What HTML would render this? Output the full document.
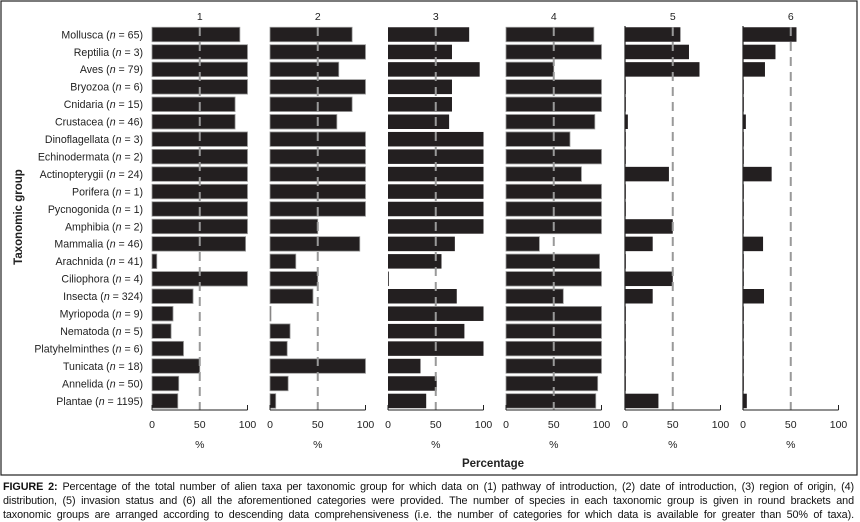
<!DOCTYPE html>
<html><head><meta charset="utf-8"><style>
body{margin:0;background:#fff;width:860px;height:522px;overflow:hidden;font-family:"Liberation Sans",sans-serif}
#cap{position:absolute;left:3px;top:480px;width:851px;font-size:10.8px;line-height:14px;text-align:justify;text-align-last:justify;color:#111;letter-spacing:-0.1px}
#cap p{margin:0}
</style></head><body>
<svg id="chart" width="860" height="478" style="position:absolute;left:0;top:0" font-family="Liberation Sans, sans-serif"></svg>
<div id="cap">
<p><b>FIGURE 2:</b> Percentage of the total number of alien taxa per taxonomic group for which data on (1) pathway of introduction, (2) date of introduction, (3) region of origin, (4)</p>
<p>distribution, (5) invasion status and (6) all the aforementioned categories were provided. The number of species in each taxonomic group is given in round brackets and</p>
<p>taxonomic groups are arranged according to descending data comprehensiveness (i.e. the number of categories for which data is available for greater than 50% of taxa).</p>
</div>
<script>
const groups=["Mollusca","Reptilia","Aves","Bryozoa","Cnidaria","Crustacea","Dinoflagellata","Echinodermata","Actinopterygii","Porifera","Pycnogonida","Amphibia","Mammalia","Arachnida","Ciliophora","Insecta","Myriopoda","Nematoda","Platyhelminthes","Tunicata","Annelida","Plantae"];
const counts=[65,3,79,6,15,46,3,2,24,1,1,2,46,41,4,324,9,5,6,18,50,1195];
const panelTitles=["1","2","3","4","5","6"];
const p1=[92,100,100,100,87,87,100,100,100,100,100,100,98,5,100,43,22,20,33,50,28,27];
const p2=[86,100,72,100,86,70,100,100,100,100,100,50,94,27,50,45,1,21,18,100,19,6];
const p3=[85,67,96,67,67,64,100,100,100,100,100,100,70,56,0.5,72,100,80,100,34,51,40];
const p4=[92,100,50,100,100,93,67,100,79,100,100,100,35,98,100,60,100,100,100,100,96,94];
const p5=[58,67,78,0,0,3,0,0,46,0,0,50,29,0,50,29,0,0,0,0,0,35];
const p6=[56,34,23,0,0,3,0,0,30,0,0,0,21,0,0,22,0,0,0,0,0,4];
const ticks=[0,50,100];
const series=[p1,p2,p3,p4,p5,p6];
const NS="http://www.w3.org/2000/svg";
const svg=document.getElementById('chart');
function mk(t,a,txt){const e=document.createElementNS(NS,t);for(const k in a)e.setAttribute(k,a[k]);if(txt!=null)e.textContent=txt;svg.appendChild(e);return e;}
const x0s=[152,270,388,506,625,743],pw=95.5;
const y=i=>34.5+i*17.45;
const bh=14.5;
let f=mk('rect',{x:1,y:1,width:856,height:474,fill:'none',stroke:'#222','stroke-width':1.2});

groups.forEach((g,i)=>{
  const t=mk('text',{x:143,y:y(i)+3.8,'font-size':10.6,'text-anchor':'end',fill:'#222'});
  
  
  t.innerHTML=g+' (<tspan font-style="italic">n</tspan> = '+counts[i]+')';
});
const yl=mk('text',{x:22,y:217,'font-size':11.5,'font-weight':'bold','text-anchor':'middle',transform:'rotate(-90 22 217)',fill:'#222'},'Taxonomic group');

series.forEach((vals,p)=>{
  const x0=x0s[p];const sx=v=>x0+v/100*pw;
  const tt=mk('text',{x:sx(50),y:20,'font-size':10.5,'text-anchor':'middle',fill:'#222'},panelTitles[p]);
  
  if(p>=4){const al=mk('line',{x1:x0,x2:x0,y1:26,y2:410,stroke:'#222','stroke-width':1.2});}
  vals.forEach((v,i)=>{
    const r=mk('rect',{x:x0,y:y(i)-bh/2,width:Math.max(v/100*pw,0.8),height:bh,fill:'#231f20',stroke:(p<2||p==3)?'#999':'none','stroke-width':0.8});
    
    
  });
  const d=mk('line',{x1:sx(50),x2:sx(50),y1:27,y2:410,stroke:'#999','stroke-width':2,'stroke-dasharray':'9,6'});
  
  const ax=mk('line',{x1:x0,x2:x0+pw,y1:410,y2:410,stroke:'#222','stroke-width':1});
  
  ticks.forEach(tk=>{
    const tl=mk('line',{x1:sx(tk),x2:sx(tk),y1:410,y2:tk==50?410:405,stroke:'#222','stroke-width':1});
    
    const tx=mk('text',{x:sx(tk),y:428,'font-size':10.5,'text-anchor':'middle',fill:'#222'},String(tk));
    
  });
  const pc=mk('text',{x:sx(50),y:448,'font-size':10.5,'text-anchor':'middle',fill:'#222'},'%');
  
});
const xl=mk('text',{x:493,y:467,'font-size':11.5,'font-weight':'bold','text-anchor':'middle',fill:'#222'},'Percentage');

</script>
</body></html>
